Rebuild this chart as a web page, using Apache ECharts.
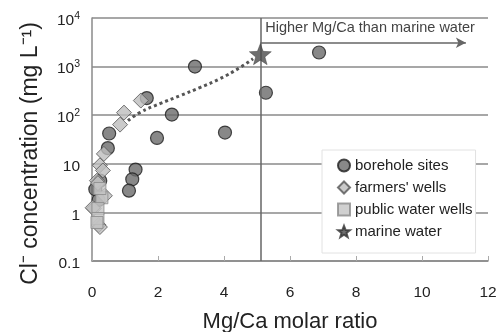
<!DOCTYPE html>
<html><head><meta charset="utf-8">
<script src="https://cdn.jsdelivr.net/npm/echarts@6/dist/echarts.min.js"></script>
<style>html,body{margin:0;padding:0;background:#fff}#c{width:501px;height:332px}</style>
</head><body><div id="c"></div>
<script>
// Mg/Ca molar ratio, Cl- (mg/L)
const boreholeX = [3.12, 6.88, 5.27, 2.42, 1.97, 4.03, 1.66, 0.52, 0.48, 1.32, 1.22, 1.12, 0.25, 0.10, 0.20];
const boreholeY = [1000, 1950, 290, 103, 34, 44, 225, 42, 21, 7.6, 4.8, 2.8, 4.5, 3.0, 1.8];
const farmersX = [1.48, 0.97, 0.85, 0.36, 0.24, 0.33, 0.15, 0.18, 0.39, 0.05, 0.20, 0.02, 0.24];
const farmersY = [200, 113, 64, 16, 9.3, 7.3, 4.5, 4.0, 2.2, 1.2, 0.55, 1.25, 0.5];
const publicX = [0.30, 0.18, 0.18, 0.24, 0.15];
const publicY = [2.0, 1.2, 0.75, 3.1, 0.62];
const marineX = [5.1];
const marineY = [1800];
const trendX = [1.09, 1.45, 2.06, 2.67, 3.27, 3.88, 4.48, 4.88];
const trendY = [77, 113, 173, 252, 370, 565, 950, 1450];
const xTicks = [0, 2, 4, 6, 8, 10, 12];
const yTicks = [0.1, 1, 10, 100, 1000, 10000];
const arrowY = 3100, arrowEndX = 11.33;

const zip = (a, b) => a.map((v, i) => [v, b[i]]);
const star = 'path://M50,0L62.5,33L97.55,34.55L70,57L79.39,90.45L50,71L20.61,90.45L30,57L2.45,34.55L37.5,33Z';
const F = '"Liberation Sans", Arial, sans-serif';

const chart = echarts.init(document.getElementById('c'), null, {renderer: 'canvas'});
chart.setOption({
  animation: false,
  textStyle: {fontFamily: F},
  grid: {left: 92, right: 13, top: 18, bottom: 71, containLabel: false, outerBoundsMode: 'none'},
  xAxis: {
    type: 'value', min: 0, max: 12, interval: 2,
    axisLine: {show: true, lineStyle: {color: '#8a8a8a', width: 1.5}},
    axisTick: {show: true, inside: true, length: 5, lineStyle: {color: '#aaa'}},
    splitLine: {show: false},
    axisLabel: {fontSize: 15.5, color: '#222', margin: 24, fontFamily: F,
      formatter: v => xTicks.includes(v) ? String(v) : ''},
    name: 'Mg/Ca molar ratio', nameLocation: 'middle', nameGap: 50,
    nameTextStyle: {fontSize: 22, color: '#222', fontFamily: F}
  },
  yAxis: {
    type: 'log', logBase: 10, min: 0.1, max: 10000,
    axisLine: {show: true, lineStyle: {color: '#8a8a8a', width: 1.5}},
    axisTick: {show: false},
    splitLine: {show: true, lineStyle: {color: '#8a8a8a', width: 1.5}},
    axisLabel: {
      margin: 12, fontFamily: F,
      formatter: v => {
        if (v >= 100) { const e = Math.round(Math.log10(v)); return '{b|10}{s|' + e + '}'; }
        return '{c|' + (v < 1 ? '0.1' : String(Math.round(v))) + '}';
      },
      rich: {
        b: {fontSize: 15.5, color: '#222', fontFamily: F, lineHeight: 18, padding: [5, 0, 0, 0]},
        s: {fontSize: 10.5, color: '#222', fontFamily: F, padding: [0, 0, 4, 0]},
        c: {fontSize: 15.5, color: '#222', fontFamily: F, lineHeight: 18, padding: [6, 0, 0, 0]}
      }
    },
    name: 'Cl\u207B concentration (mg L\u207B\u00B9)', nameLocation: 'middle', nameGap: 50,
    nameTextStyle: {fontSize: 23, color: '#222', fontFamily: F, padding: [0, 28, 0, 0]}
  },
  legend: {
    data: ['borehole sites', "farmers' wells", 'public water wells', 'marine water'],
    orient: 'vertical', left: 322, top: 150,
    backgroundColor: '#fff', borderColor: '#e2e2e2', borderWidth: 1,
    padding: [8, 3, 14, 15], itemGap: 7, itemWidth: 12, itemHeight: 12,
    textStyle: {fontSize: 15, color: '#222', fontFamily: F}
  },
  series: [
    {
      type: 'line', name: 'trend', data: zip(trendX, trendY), smooth: true,
      symbol: 'none', z: 1,
      lineStyle: {color: '#555', width: 3, type: [3, 3]},
      markLine: {
        silent: true, symbol: ['none', 'none'],
        lineStyle: {color: '#666', width: 1.5, type: 'solid'},
        label: {show: false},
        data: [
          [{coord: [marineX[0], 10000]}, {coord: [marineX[0], 0.1]}],
          [{coord: [marineX[0], arrowY], symbol: 'none'},
           {coord: [arrowEndX, arrowY], symbol: 'arrow', symbolSize: [8, 10],
            label: {show: true, position: 'insideStartTop', formatter: 'Higher Mg/Ca than marine water',
              fontSize: 14.5, color: '#444', fontFamily: F, distance: [5, 7]}}]
        ]
      }
    },
    {
      type: 'scatter', name: 'borehole sites', data: zip(boreholeX, boreholeY),
      symbol: 'circle', symbolSize: 13, z: 2,
      itemStyle: {color: '#6a6a6a', borderColor: '#1e1e1e', borderWidth: 1.2}
    },
    {
      type: 'scatter', name: "farmers' wells", data: zip(farmersX, farmersY),
      symbol: 'diamond', symbolSize: 15, z: 3,
      itemStyle: {color: '#bdbdbd', borderColor: '#555', borderWidth: 1}
    },
    {
      type: 'scatter', name: 'public water wells', data: zip(publicX, publicY),
      symbol: 'rect', symbolSize: 12, z: 4,
      itemStyle: {color: '#c4c4c4', borderColor: '#8a8a8a', borderWidth: 1}
    },
    {
      type: 'scatter', name: 'marine water', data: zip(marineX, marineY),
      symbol: star, symbolSize: 22, symbolKeepAspect: true, z: 5,
      itemStyle: {color: '#4a4a4a', borderColor: '#333', borderWidth: 0.5}
    }
  ]
});
</script></body></html>
